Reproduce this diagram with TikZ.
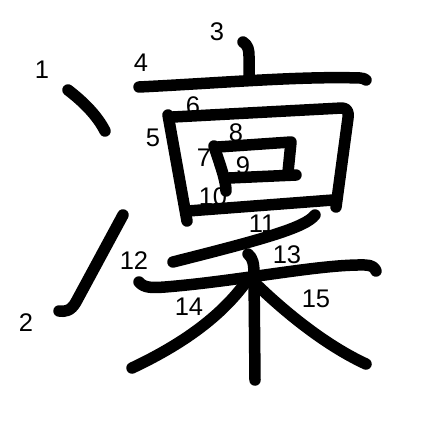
\documentclass[tikz,border=0pt]{standalone}
\usepackage{fontspec}
\setmainfont{Liberation Sans}
\begin{document}
\begin{tikzpicture}[x=1pt,y=-1pt,
  strk/.style={line width=11.5pt,line cap=round,line join=round},
  num/.style={font=\fontsize{25.5}{25.5}\selectfont,inner sep=0pt}]
\useasboundingbox[fill=white] (0,0) rectangle (447,447);
% strokes
\draw[strk] (68,90) .. controls (85,103) and (98,117) .. (105,131);
\draw[strk] (123,215) -- (76,302) .. controls (71,311) and (65,312) .. (59,311);
\draw[strk] (243,42) .. controls (248,45) and (249,50) .. (249,56) -- (249,79);
\draw[strk] (139,87) .. controls (220,83) and (300,76) .. (360,78) .. controls (363,78) and (365,79) .. (366,80);
\draw[strk] (168,115) -- (187,221);
\draw[strk] (173,117) -- (342,108) .. controls (347,108) and (349,112) .. (348,118) -- (336,207);
\draw[strk] (214,146) .. controls (220,165) and (226,180) .. (226,191);
\draw[strk] (218,147) -- (291,142) -- (288,172);
\draw[strk] (229,178) -- (296,175);
\draw[strk] (188,211) -- (333,200);
\draw[strk] (315,215) .. controls (305,228) and (260,240) .. (173,262);
\draw[strk] (139,282) .. controls (144,288) and (152,288) .. (165,287) .. controls (240,281) and (320,264) .. (365,265) .. controls (372,265) and (375,268) .. (376,271);
\draw[strk] (248,254) .. controls (253,258) and (254,264) .. (254,275) -- (255,380);
\draw[strk] (246,282) .. controls (222,315) and (185,343) .. (132,368);
\draw[strk] (256,284) .. controls (285,312) and (325,345) .. (366,364);
% labels
\node[num] (n1) at (42,70) {1};
\node[num] (n2) at (26,323) {2};
\node[num] (n3) at (217,32) {3};
\node[num] (n4) at (141,63) {4};
\node[num] (n5) at (153,138) {5};
\node[num] (n6) at (193,106) {6};
\node[num] (n7) at (204,158) {7};
\node[num] (n8) at (236,133) {8};
\node[num] (n9) at (243,166) {9};
\node[num] (n10) at (213,197) {10};
\node[num] (n11) at (262,224) {11};
\node[num] (n12) at (134,261) {12};
\node[num] (n13) at (287,255) {13};
\node[num] (n14) at (189,307) {14};
\node[num] (n15) at (316,299) {15};
\end{tikzpicture}
\end{document}
